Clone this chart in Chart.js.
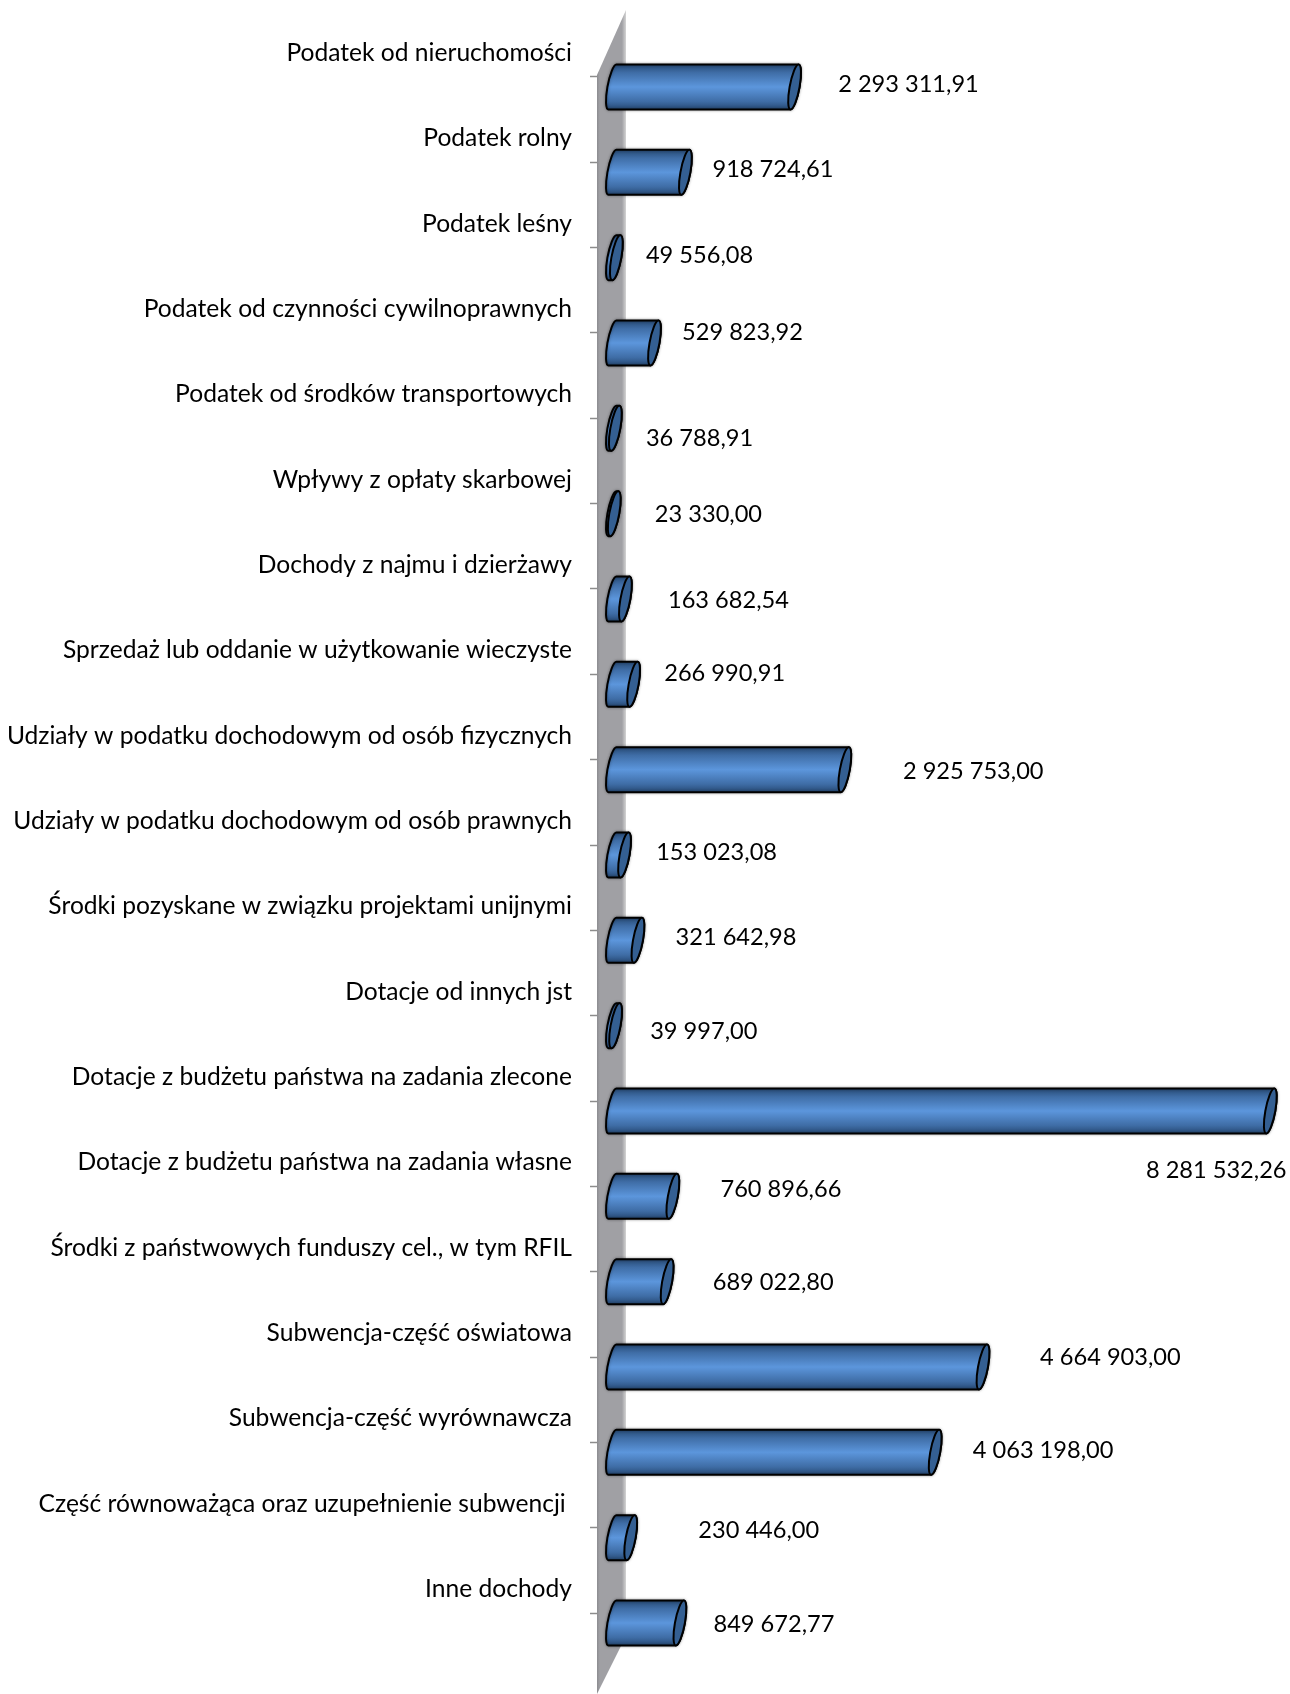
<!DOCTYPE html>
<html>
<head>
<meta charset="utf-8">
<script src="https://cdn.jsdelivr.net/npm/chart.js@4/dist/chart.umd.min.js"></script>
<style>
html, body { margin: 0; padding: 0; background: #fff; }
canvas { display: block; }
</style>
</head>
<body>
<canvas id="myCanvas" width="1290" height="1694"></canvas>
<script>
var categories = [
    'Podatek od nieruchomości',
    'Podatek rolny',
    'Podatek leśny',
    'Podatek od czynności cywilnoprawnych',
    'Podatek od środków transportowych',
    'Wpływy z opłaty skarbowej',
    'Dochody z najmu i dzierżawy',
    'Sprzedaż lub oddanie w użytkowanie wieczyste',
    'Udziały w podatku dochodowym od osób fizycznych',
    'Udziały w podatku dochodowym od osób prawnych',
    'Środki pozyskane w związku projektami unijnymi',
    'Dotacje od innych jst',
    'Dotacje z budżetu państwa na zadania zlecone',
    'Dotacje z budżetu państwa na zadania własne',
    'Środki z państwowych funduszy cel., w tym RFIL',
    'Subwencja-część oświatowa',
    'Subwencja-część wyrównawcza',
    'Część równoważąca oraz uzupełnienie subwencji ',
    'Inne dochody'
];

var values = [
    2293311.91, 918724.61, 49556.08, 529823.92, 36788.91, 23330.00, 163682.54,
    266990.91, 2925753.00, 153023.08, 321642.98, 39997.00, 8281532.26, 760896.66,
    689022.80, 4664903.00, 4063198.00, 230446.00, 849672.77
];

// hand placed data labels, as in the original: offset from the end of the bar / from the tick
var labelDx = [50, 33.5, 36, 34, 37, 47, 49, 37, 64.5, 38, 44, 41, -118, 54, 52, 63.5, 44, 74, 40];
var labelDy = [7, 7, 7.5, -1, 20, 10.5, 11.5, -1, 11.5, 7, 7, 16, 69, 3, 10.5, 0, 8, 3, 11];

var fonte = '23.6px Lato, Carlito, sans-serif';
var altura = 45;
var inclinacao = 8;
var raioX = 5;

var formata = function(v) {
    return v.toFixed(2).replace('.', ',').replace(/\B(?=(\d{3})+(?!\d))/g, ' ');
};

var paredePlugin = {
    id: 'parede',
    beforeDatasetsDraw: function(chart) {
        var ctx = chart.ctx;
        var x0 = chart.scales.x.getPixelForValue(0);
        var esq = x0 - 9, dir = x0 + 20;
        var g = ctx.createLinearGradient(esq, 0, dir, 0);
        g.addColorStop(0, '#8c8c90');
        g.addColorStop(0.1, '#a0a0a4');
        g.addColorStop(0.86, '#a0a0a4');
        g.addColorStop(1, '#d4d4d4');
        ctx.save();
        ctx.fillStyle = g;
        ctx.beginPath();
        ctx.moveTo(esq, 75);
        ctx.lineTo(dir, 10);
        ctx.lineTo(dir, 1636);
        ctx.lineTo(esq, 1694);
        ctx.closePath();
        ctx.fill();
        ctx.restore();
    }
};

var cilindroPlugin = {
    id: 'cilindro',
    afterDatasetsDraw: function(chart) {
        var ctx = chart.ctx;
        var k = -inclinacao / altura;
        var meia = altura / 2;
        var folga = Math.sqrt(raioX * raioX + inclinacao * inclinacao / 4);
        var barras = chart.getDatasetMeta(0).data;

        barras.forEach(function(el, i) {
            var cy = el.y + 10;
            var cxEsq = el.base + folga;
            var cxDir = el.x + folga;

            var g = ctx.createLinearGradient(0, cy - meia, 0, cy + meia);
            g.addColorStop(0, '#274a75');
            g.addColorStop(0.18, '#3f6da6');
            g.addColorStop(0.5, '#5c96dc');
            g.addColorStop(0.82, '#3f6da6');
            g.addColorStop(1, '#274a75');

            ctx.save();
            ctx.shadowColor = 'rgba(0,0,0,0.35)';
            ctx.shadowBlur = 3;
            ctx.lineWidth = 2;
            ctx.strokeStyle = '#000';
            ctx.lineJoin = 'round';

            // corpo
            ctx.save();
            ctx.translate(0, cy);
            ctx.transform(1, 0, k, 1, 0, 0);
            ctx.beginPath();
            ctx.ellipse(cxEsq, 0, raioX, meia, 0, -Math.PI / 2, Math.PI / 2, true);
            ctx.lineTo(cxDir, meia);
            ctx.ellipse(cxDir, 0, raioX, meia, 0, Math.PI / 2, -Math.PI / 2, true);
            ctx.closePath();
            ctx.restore();
            ctx.fillStyle = g;
            ctx.fill();
            ctx.stroke();
            ctx.shadowColor = 'transparent';

            // tampa
            ctx.save();
            ctx.translate(0, cy);
            ctx.transform(1, 0, k, 1, 0, 0);
            ctx.beginPath();
            ctx.ellipse(cxDir, 0, raioX, meia, 0, 0, Math.PI * 2);
            ctx.restore();
            ctx.fillStyle = '#345f92';
            ctx.fill();
            ctx.stroke();
            ctx.restore();
        });

        // rotulos dos valores
        ctx.save();
        ctx.font = fonte;
        ctx.fillStyle = '#000';
        ctx.textAlign = 'left';
        ctx.textBaseline = 'middle';
        barras.forEach(function(el, i) {
            ctx.fillText(formata(values[i]), el.x + labelDx[i], el.y + labelDy[i]);
        });
        ctx.restore();
    }
};

var grafico = new Chart(document.getElementById('myCanvas'), {
    type: 'bar',
    data: {
        labels: categories,
        datasets: [{
            data: values,
            backgroundColor: 'rgba(0,0,0,0)',
            borderWidth: 0,
            barThickness: altura
        }]
    },
    plugins: [paredePlugin, cilindroPlugin],
    options: {
        indexAxis: 'y',
        responsive: false,
        animation: false,
        devicePixelRatio: 1,
        layout: { padding: { top: 34.33, bottom: 38.33, left: 0, right: 0 } },
        plugins: {
            legend: { display: false },
            tooltip: { enabled: false },
            title: { display: false }
        },
        scales: {
            x: {
                display: false,
                min: 0,
                max: 8610000
            },
            y: {
                afterFit: function(scale) { scale.width = 606; },
                border: { display: false },
                grid: {
                    offset: false,
                    drawOnChartArea: false,
                    drawTicks: true,
                    tickLength: 16,
                    tickColor: '#8c8c8c',
                    tickWidth: 1.5
                },
                ticks: {
                    autoSkip: false,
                    padding: 18,
                    labelOffset: -24,
                    color: '#000',
                    font: { family: 'Lato, Carlito, sans-serif', size: 24.6 }
                }
            }
        }
    }
});
</script>
</body>
</html>
